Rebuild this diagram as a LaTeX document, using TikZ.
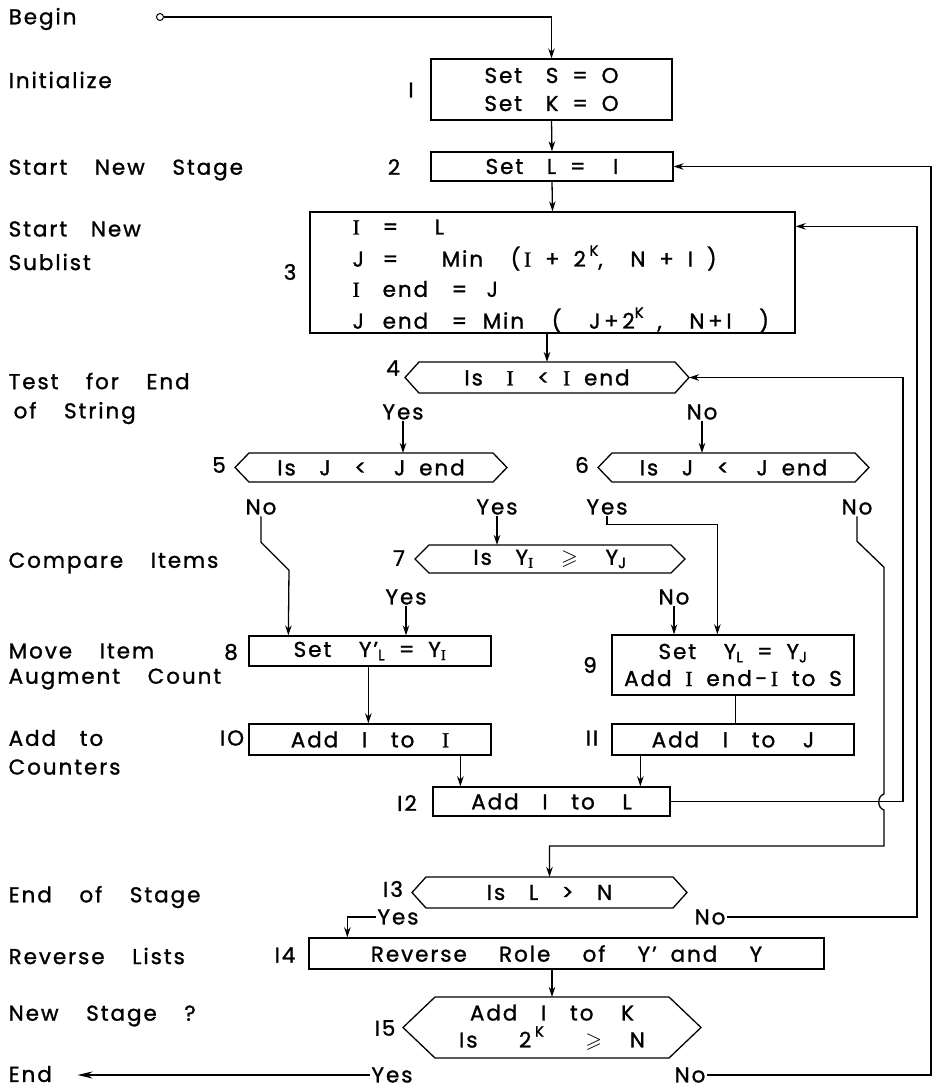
\documentclass[tikz,border=0pt]{standalone}
\usepackage{amssymb}
\usepackage{amsmath}
\usepackage{fontspec}
\setmainfont{Poppins}[LetterSpace=9.0,WordSpace=1.8,FakeBold=1.2]
\newfontfamily\ser{Liberation Serif}[FakeBold=1.2]
\usetikzlibrary{arrows.meta}
\newcommand\vI{{\ser I}}
\newcommand\geqs{\ensuremath{\boldsymbol{\geqslant}}}
\newcommand\subs[1]{\textsubscript{#1}}
\newcommand\sups[1]{\raisebox{0.5em}{\fontsize{15}{15}\selectfont #1}}
\newcommand\gap{\hspace{1.1em}}
\newcommand\mkbox[6]{%
  \pgfmathsetmacro\bw{#4-#2}\pgfmathsetmacro\bh{#5-#3}%
  \pgfmathsetmacro\bx{(#2+#4)/2}\pgfmathsetmacro\by{(#3+#5)/2}%
  \node[boxnode,minimum width=\bw pt,minimum height=\bh pt] (#1) at (\bx,\by) {#6};}
\newcommand\mkhex[7]{%
  \pgfmathsetmacro\bw{#4-#2}\pgfmathsetmacro\bh{#5-#3}%
  \pgfmathsetmacro\bx{(#2+#4)/2}\pgfmathsetmacro\by{(#3+#5)/2}%
  \node[hexnode,minimum width=\bw pt,minimum height=\bh pt] (#1) at (\bx,\by) {#7};
  \draw (#1.west) -- ([xshift=#6pt]#1.north west) -- ([xshift=-#6pt]#1.north east)
    -- (#1.east) -- ([xshift=-#6pt]#1.south east) -- ([xshift=#6pt]#1.south west) -- cycle;}
\begin{document}
\begin{tikzpicture}[x=1pt,y=-1pt,
  font=\fontsize{21.5}{27}\selectfont,
  line width=1.3pt,
  >={Stealth[length=10pt,width=6.5pt]},
  boxnode/.style={draw,rectangle,inner sep=0pt,align=center},
  hexnode/.style={rectangle,inner sep=0pt,outer sep=0pt,align=center},
  side/.style={anchor=west,inner sep=0pt},
  num/.style={inner sep=0pt},
  lab/.style={inner sep=1pt},
  line/.style={anchor=west,inner sep=0pt}]
\useasboundingbox (0,0) rectangle (934,1090);

% column coordinates for return lines
\coordinate (xa) at (903,0);
\coordinate (xb) at (917,0);
\coordinate (xc) at (931,0);

% left side labels
\node[side] (sBegin) at (8,19) {Begin};
\node[side] (sInit) at (8,80) {Initialize};
\node[side] (sStage) at (8,170) {Start\ \ New\ \ Stage};
\node[side] (sSub1) at (8,229) {Start\gap New};
\node[side] (sSub2) at (8,262) {Sublist};
\node[side] (sTest1) at (8,381) {Test\ \ for\ \ End};
\node[side] (sTest2) at (13,413) {of\ \ String};
\node[side] (sComp) at (8,563) {Compare\ \ Items};
\node[side] (sMove1) at (8,651) {Move\ \ Item};
\node[side] (sMove2) at (8,679) {Augment\ \ Count};
\node[side] (sAdd1) at (8,738) {Add\gap to};
\node[side] (sAdd2) at (8,767) {Counters};
\node[side] (sEoS) at (8,897) {End\ \ of\ \ Stage};
\node[side] (sRev) at (8,956) {Reverse\ \ Lists};
\node[side] (sNew) at (8,1016) {New\ \ Stage\ \ ?};
\node[side] (sEnd) at (8,1074) {End};

% start
\node[circle,draw,line width=1pt,minimum size=7pt,inner sep=0pt] (beg) at (160,17) {};

% boxes
\mkbox{b1}{431}{59}{672}{120}{Set\gap S\ =\ O\\[1pt]Set\gap K\ =\ O}
\node[num] (n1) at (411,90) {I};
\mkbox{b2}{431}{152}{673}{181}{Set\gap L\ =\ \ I}
\node[num] (n2) at (394,167) {2};
\mkbox{b3}{310}{212}{795}{333}{}
\node[num] (n3) at (290,272) {3};
\node[line] (t3a) at (352,227) {\makebox[30pt][l]{\vI}\makebox[52pt][l]{=}L};
\node[line] (t3b) at (352,258) {\makebox[30pt][l]{J}\makebox[59pt][l]{=}Min\ \ (\,\vI\ +\ 2\,\sups{K},\ \ N\ +\ I\ )};
\node[line] (t3c) at (352,289) {\makebox[30pt][l]{\vI}\makebox[69pt][l]{end}\makebox[35pt][l]{=}J};
\node[line] (t3d) at (352,320) {\makebox[30pt][l]{J}\makebox[69pt][l]{end}\makebox[31pt][l]{=}Min\ \ (\ \ J\,+\,2\sups{K}\ ,\ \ N\,+\,I\ \ )};

\mkhex{d4}{405}{362}{689}{393}{14}{Is\gap \vI\gap <\ \vI\ end}
\node[num] (n4) at (393,368) {4};
\node[lab] (y4) at (403,412) {Yes};
\node[lab] (no4) at (702,412) {No};

\mkhex{d5}{235}{453}{507}{482}{14}{Is\gap J\gap <\ \ J\ end}
\node[num] (n5) at (219,465) {5};
\mkhex{d6}{598}{453}{869}{482}{14}{Is\gap J\gap <\ \ J\ end}
\node[num] (n6) at (582,465) {6};
\node[lab] (no5) at (261,507) {No};
\node[lab] (y5) at (497,507) {Yes};
\node[lab] (y6) at (607,507) {Yes};
\node[lab] (no6) at (857,507) {No};

\mkhex{d7}{415}{545}{685}{573}{14}{Is\gap Y\subs{\vI}\ \ \geqs\ \ Y\subs{J}}
\node[num] (n7) at (399,558) {7};
\node[lab] (y7) at (406,597) {Yes};
\node[lab] (no7) at (674,597) {No};

\mkbox{b8}{249}{636}{491}{666}{Set\ \ Y’\subs{L}\ =\ Y\subs{\vI}}
\node[num] (n8) at (231,652) {8};
\mkbox{b9}{612}{635}{854}{695}{Set\ \ Y\subs{L}\ =\ Y\subs{J}\\Add\ \vI\ end\,-\,\vI\ to\ S}
\node[num] (n9) at (590,665) {9};
\mkbox{b10}{249}{724}{491}{755}{Add\gap I\gap to\ \ \vI}
\node[num] (n10) at (232,738) {IO};
\mkbox{b11}{612}{724}{854}{755}{Add\gap I\gap to\ \ J}
\node[num] (n11) at (592,738) {II};
\mkbox{b12}{433}{787}{670}{816}{Add\gap I\gap to\ \ L}
\node[num] (n12) at (407,803) {I2};

\mkhex{d13}{412}{877}{687}{908}{14}{Is\gap L\gap >\gap N}
\node[num] (n13) at (393,889) {I3};
\node[lab] (y13) at (398,917) {Yes};
\node[lab] (no13) at (710,917) {No};

\mkbox{b14}{309}{938}{824}{969}{Reverse\hspace{1.5em}Role\hspace{1.5em}of\hspace{1.5em}Y’\ and\hspace{1.5em}Y}
\node[num] (n14) at (285,955) {I4};

\mkhex{d15}{403}{997}{701}{1058}{32}{Add\gap I\gap to\ \ K\\Is\ \ \ 2\,\sups{K}\ \ \ \geqs\ \ N}
\node[num] (n15) at (385,1028) {I5};
\node[lab] (y15) at (392,1075) {Yes};
\node[lab] (no15) at (690,1075) {No};

% connectors
\draw[->] (beg.east) -- (beg.east -| b1.north) -- (b1.north);
\draw[->] (b1.south) -- (b2.north);
\draw[->] (b2.south) -- (b3.north);
\draw[->] (d4.north |- b3.south) -- (d4.north);
\draw[->] (y4.south) -- (y4.south |- d5.north);
\draw[->] (no4.south) -- (no4.south |- d6.north);
\draw[->] (no5.south) -- ++(0,26) -- ++(28,28) -- ([xshift=40pt]b8.north west);
\draw[->] (y5.south) -- (y5.south |- d7.north);
\draw[->] (y6.south) -- ++(0,8) -| ([xshift=106pt]b9.north west);
\draw[->] (y7.south) -- (y7.south |- b8.north);
\draw[->] (no7.south) -- (no7.south |- b9.north);
\draw[->] ([xshift=120pt]b8.south west) -- ([xshift=120pt]b10.north west);
\draw ([xshift=124pt]b9.south west) -- ([xshift=124pt]b11.north west);
\draw[->] ([xshift=212pt]b10.south west) -- ([xshift=28pt]b12.north west);
\draw[->] ([xshift=29pt]b11.south west) -- ([xshift=208pt]b12.north west);
\draw[->] (b12.east) -- (b12.east -| xa) |- (d4.east);
\draw[->] (no6.south) -- ++(0,25) -- ++(27,26) -- (884,794)
   .. controls (877,796) and (877,808) .. (884,810) -- (884,846) -| (d13.north);
\draw[->] (no13.east) -- (no13.east -| xb) |- ([yshift=-15pt]b3.north east);
\draw[->] (y13.west) -| ([xshift=39pt]b14.north west);
\draw[->] (d15.north |- b14.south) -- (d15.north);
\draw[->] (no15.east) -- (no15.east -| xc) |- (b2.east);
\draw[-{Stealth[length=15pt,width=7pt]},shorten >=25pt] (y15.west) -- (y15.west -| sEnd.east);
\end{tikzpicture}
\end{document}
